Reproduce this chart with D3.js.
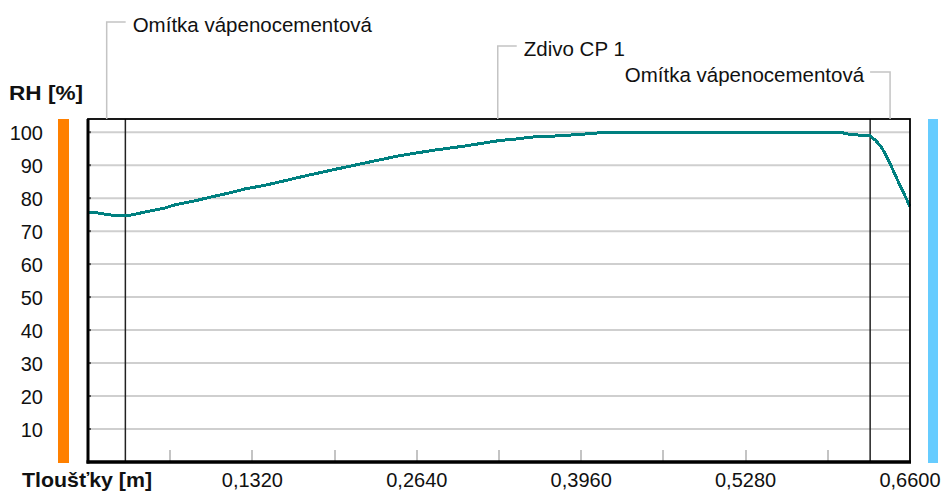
<!DOCTYPE html>
<html><head><meta charset="utf-8">
<script src="https://cdn.jsdelivr.net/npm/d3@7"></script>
<style>
html,body{margin:0;padding:0;background:#fff;}
text{font-family:"Liberation Sans",Arial,sans-serif;fill:#111;}
</style></head>
<body><svg id="c" width="942" height="492"></svg>
<script>
// thickness [m] and RH [%]
const thickness = [0.000,0.0080,0.0177,0.0297,0.0377,0.0458,0.0618,0.0699,0.0859,0.0996,0.1124,0.1261,0.1421,0.1582,0.1726,0.1967,0.2240,0.2505,0.2770,0.3043,0.3308,0.3453,0.3549,0.3782,0.3942,0.4103,0.4191,0.6039,0.6119,0.6279,0.6327,0.6375,0.6424,0.6496,0.6600];
const rh = [75.8,75.5,74.9,74.6,75.1,75.8,77.0,78.0,79.2,80.4,81.5,82.8,83.9,85.3,86.6,88.6,90.8,92.9,94.5,95.9,97.5,98.0,98.5,98.9,99.3,99.8,100.0,100.0,99.3,98.9,97.4,95.2,91.8,85.8,77.5];
const layerNames = ["Omítka vápenocementová","Zdivo CP 1","Omítka vápenocementová"];
const layerBounds = [0, 0.03, 0.628, 0.66];
const yTicks = [10,20,30,40,50,60,70,80,90,100];
const xMinorTicks = [0.066,0.132,0.198,0.264,0.330,0.396,0.462,0.528,0.594];
const xLabelTicks = [0.132,0.264,0.396,0.528,0.660];
const labelLevels = [22, 46, 72];

const svg = d3.select("#c");
const x = d3.scaleLinear().domain([0,0.66]).range([88,910]);
const y = d3.scaleLinear().domain([0,104]).range([462,119]);
const fmt = v => d3.format(".4f")(v).replace(".", ",");

// side color bars
svg.append("rect").attr("x",58).attr("y",y(104)).attr("width",11).attr("height",y(0)-y(104)+1).attr("fill","#FF8000");
svg.append("rect").attr("x",928).attr("y",y(104)).attr("width",10).attr("height",y(0)-y(104)+1).attr("fill","#66CCFF");

// gridlines
svg.append("g").selectAll("line").data(yTicks).join("line")
  .attr("x1",x(0)).attr("x2",x(0.66)).attr("y1",d=>y(d)).attr("y2",d=>y(d))
  .attr("stroke","#cfcfcf").attr("stroke-width",2);
svg.append("g").selectAll("line").data(yTicks).join("line")
  .attr("x1",x(0)).attr("x2",x(0)+3).attr("y1",d=>y(d)).attr("y2",d=>y(d))
  .attr("stroke","#555").attr("stroke-width",2);

// x minor ticks
svg.append("g").selectAll("line").data(xMinorTicks).join("line")
  .attr("x1",d=>Math.round(x(d))).attr("x2",d=>Math.round(x(d))).attr("y1",y(0)-12).attr("y2",y(0))
  .attr("stroke","#c4c4c4").attr("stroke-width",2);

// layer boundaries
svg.append("g").selectAll("line").data(layerBounds.slice(1,-1)).join("line")
  .attr("x1",d=>x(d)).attr("x2",d=>x(d)).attr("y1",y(104)).attr("y2",y(0))
  .attr("stroke","#222").attr("stroke-width",1.5);

// curve
const line = d3.line().x((d,i)=>x(thickness[i])).y(d=>y(d));
svg.append("path").datum(rh).attr("d",line).attr("fill","none")
  .attr("stroke","#008080").attr("stroke-width",3).attr("shape-rendering","crispEdges");

// plot frame
svg.append("rect").attr("x",x(0)).attr("y",y(104)).attr("width",x(0.66)-x(0)).attr("height",y(0)-y(104))
  .attr("fill","none").attr("stroke","#000").attr("stroke-width",1.8);
svg.append("line").attr("x1",x(0)).attr("x2",x(0)).attr("y1",y(104)).attr("y2",y(0)+1.5).attr("stroke","#000").attr("stroke-width",3);
svg.append("line").attr("x1",x(0)-1.5).attr("x2",x(0.66)+1).attr("y1",y(0)).attr("y2",y(0)).attr("stroke","#000").attr("stroke-width",3.5);

// y tick labels
svg.append("g").selectAll("text").data(yTicks).join("text")
  .attr("x",43).attr("y",d=>y(d)+8).attr("text-anchor","end").attr("font-size",20).text(d=>d);
// x tick labels
svg.append("g").selectAll("text").data(xLabelTicks).join("text")
  .attr("x",d=>x(d)).attr("y",487).attr("text-anchor","middle").attr("font-size",20).text(d=>fmt(d));

// axis titles
svg.append("text").attr("x",9).attr("y",100).attr("font-size",21).attr("font-weight","bold")
  .attr("textLength",74).attr("lengthAdjust","spacingAndGlyphs").text("RH [%]");
svg.append("text").attr("x",22).attr("y",487).attr("font-size",21).attr("font-weight","bold")
  .attr("textLength",130).attr("lengthAdjust","spacingAndGlyphs").text("Tloušťky [m]");

// layer labels with leader lines
layerNames.forEach((name,i)=>{
  const cx = x((layerBounds[i]+layerBounds[i+1])/2);
  const ly = labelLevels[i];
  const right = i===2;
  const g = svg.append("g");
  const hx = right ? cx-20 : cx+19;
  g.append("path").attr("d",`M${cx},${y(104)}V${ly}H${hx}`).attr("fill","none")
    .attr("stroke","#c4c4c4").attr("stroke-width",1.5);
  g.append("text").attr("x", right ? cx-26 : cx+26).attr("y",ly+9.5)
    .attr("text-anchor", right ? "end" : "start").attr("font-size",20.5).text(name);
});
</script></body></html>
